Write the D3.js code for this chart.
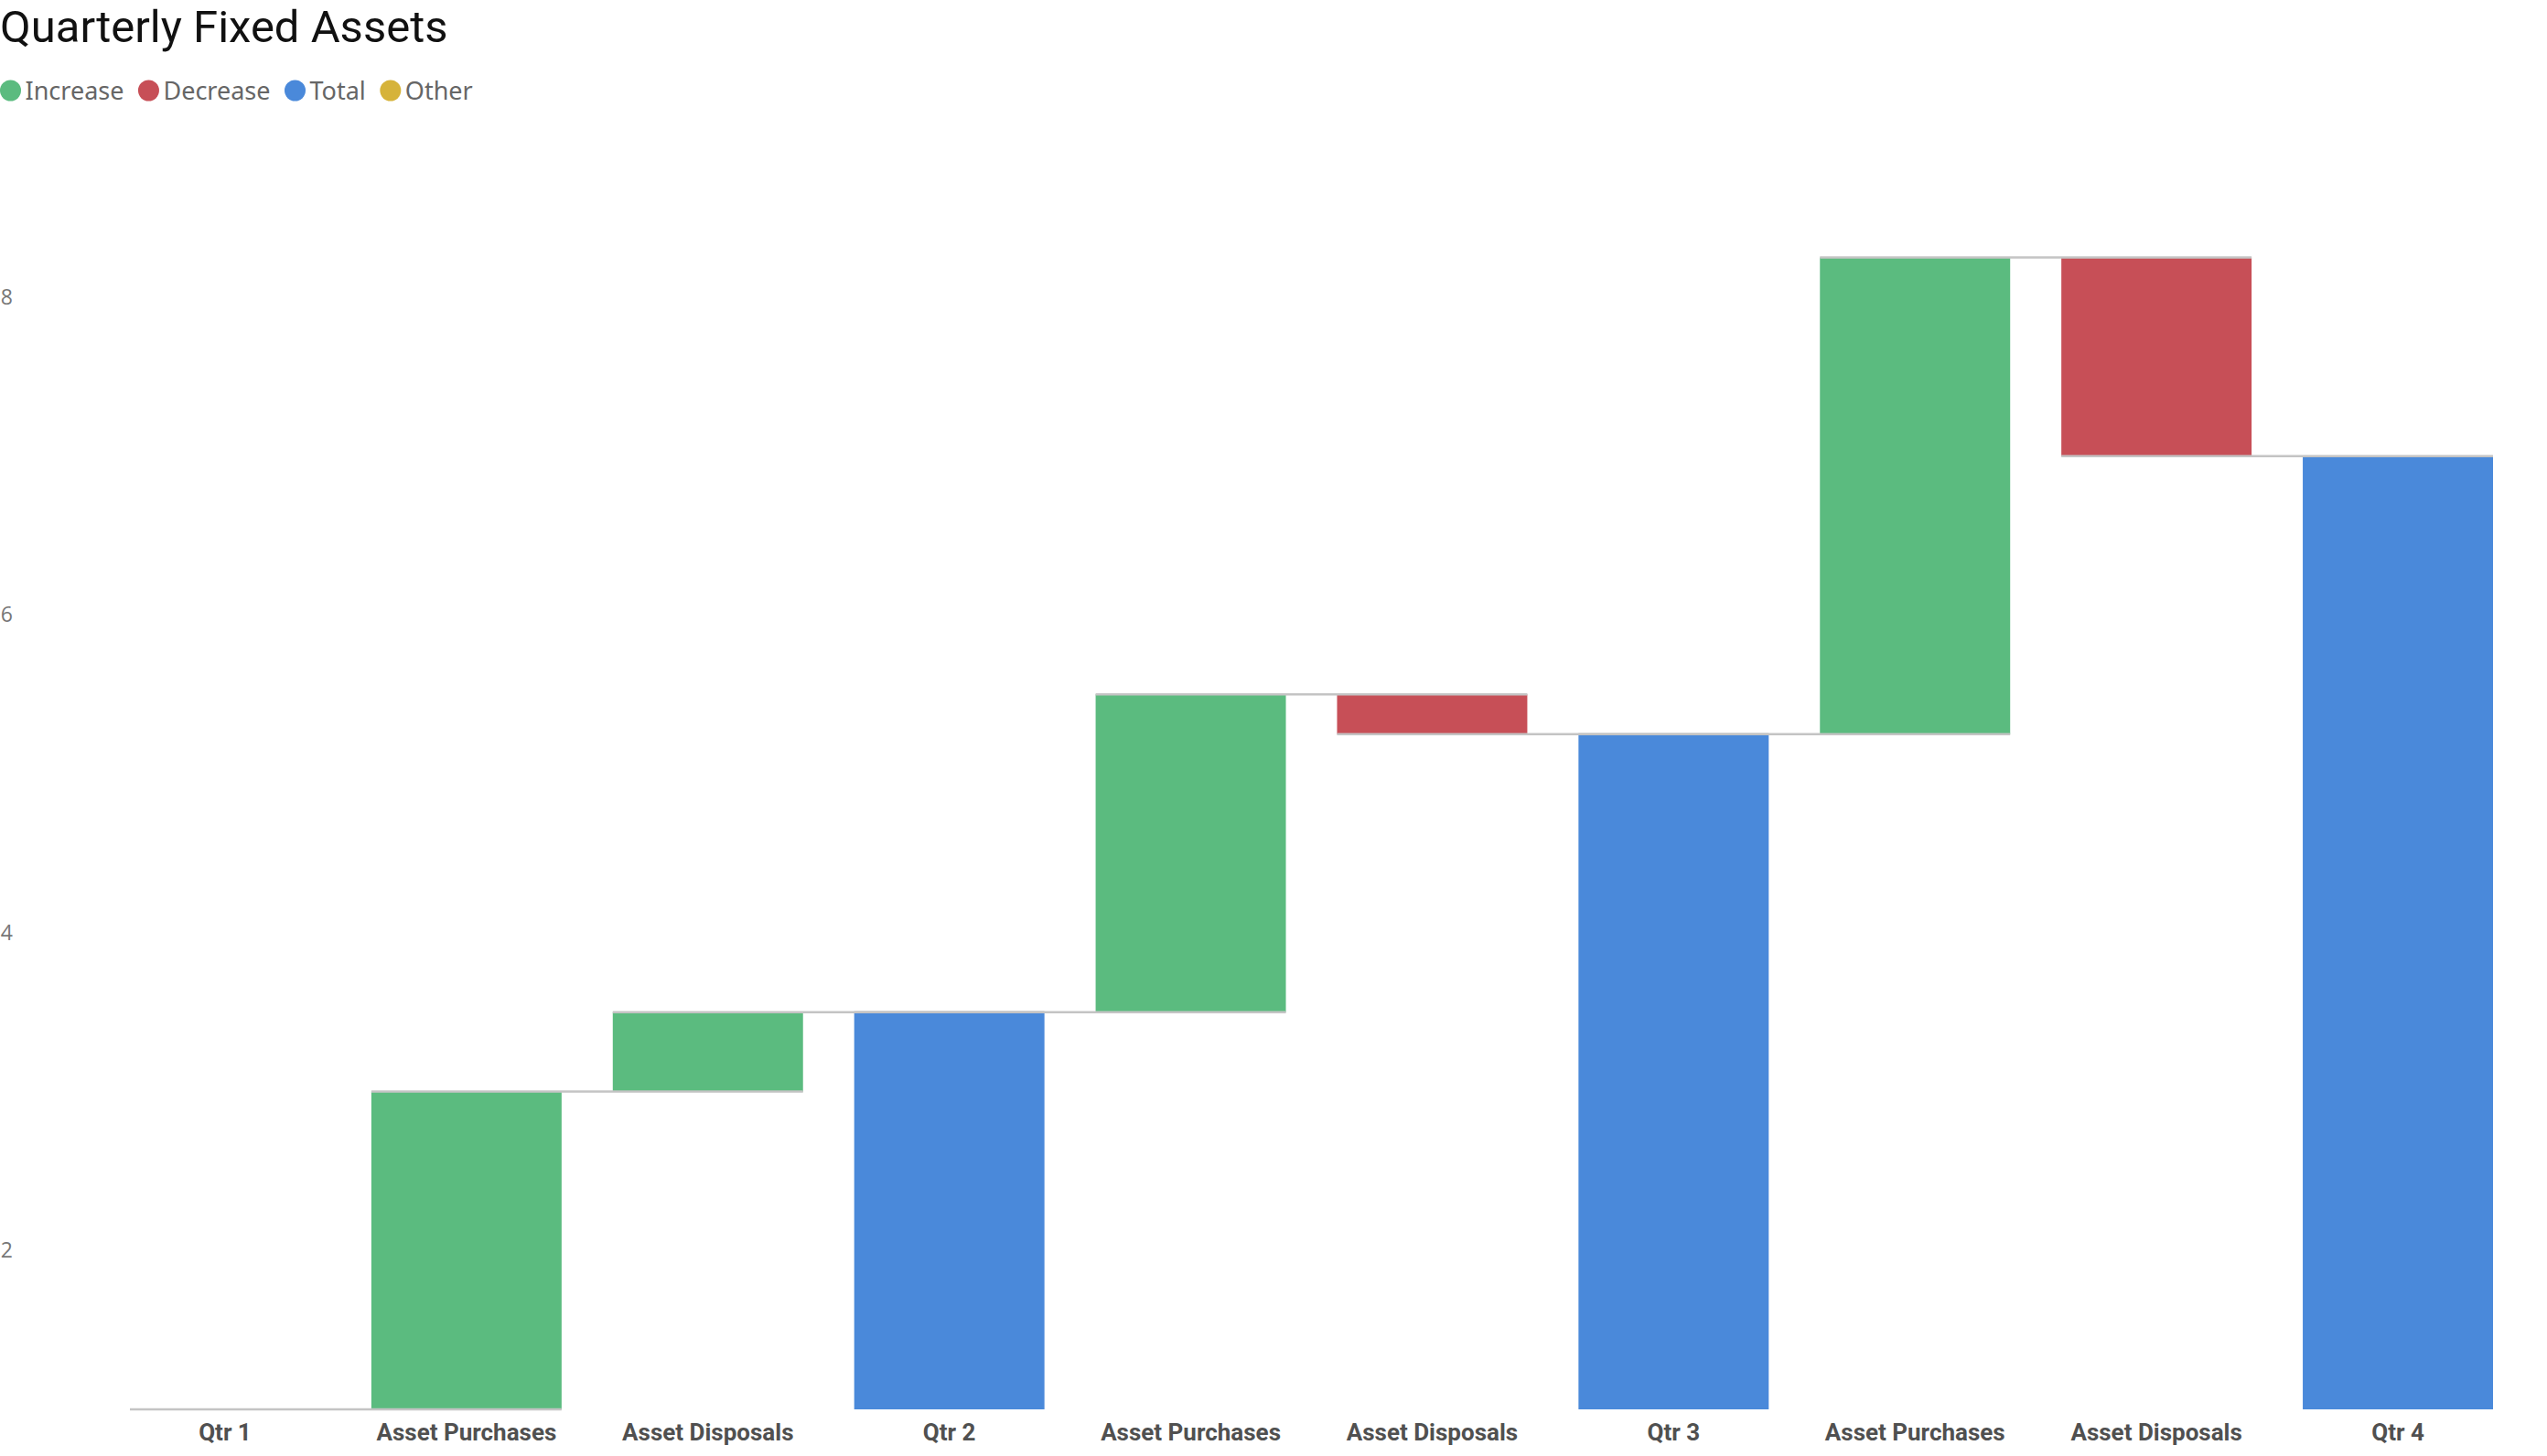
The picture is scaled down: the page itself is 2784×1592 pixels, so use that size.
<!DOCTYPE html>
<html>
<head>
<meta charset="utf-8">
<script src="https://cdn.jsdelivr.net/npm/d3@7"></script>
<style>
  body { margin: 0; background: #fff; }
  svg { display: block; }
</style>
</head>
<body>
<div id="chart"></div>
<script>
// chart data
const categories = ['Qtr 1', 'Asset Purchases', 'Asset Disposals', 'Qtr 2', 'Asset Purchases',
  'Asset Disposals', 'Qtr 3', 'Asset Purchases', 'Asset Disposals', 'Qtr 4'];
const kinds = ['total', 'increase', 'increase', 'total', 'increase',
  'decrease', 'total', 'increase', 'decrease', 'total'];
const values = [1, 2, 0.5, 3.5, 2, -0.25, 5.25, 3, -1.25, 7];
const yTicks = [2, 4, 6, 8];
const legendNames = ['Increase', 'Decrease', 'Total', 'Other'];
const legendColors = ['#5bbb7f', '#c74f57', '#4a89da', '#d6b33a'];

const width = 2784;
const height = 1592;

const colorOf = { increase: '#5bbb7f', decrease: '#c74f57', total: '#4a89da' };

// running totals -> start / end of each bar
let running = 0;
const bars = values.map((v, i) => {
  let start, end;
  if (kinds[i] === 'total') {
    start = 1; // axis floor
    end = v;
    running = v;
  } else {
    start = running;
    end = running + v;
    running = end;
  }
  return { i, label: categories[i], kind: kinds[i], start, end };
});

const svg = d3.select('#chart')
  .append('svg')
  .attr('width', width)
  .attr('height', height);

svg.append('rect').attr('width', width).attr('height', height).attr('fill', '#fff');

const xScale = d3.scaleBand()
  .domain(d3.range(categories.length))
  .range([142, 2725])
  .paddingInner(0.212)
  .paddingOuter(0);

const yScale = d3.scaleLinear().domain([1, 8]).range([1541, 325]);

// title
svg.append('text')
  .attr('x', 0)
  .attr('y', 46)
  .attr('font-family', 'Roboto, sans-serif')
  .attr('font-size', 49)
  .attr('font-weight', 400)
  .attr('fill', '#111')
  .text('Quarterly Fixed Assets');

// legend
const legend = svg.append('g').attr('transform', 'translate(0, 99)');
let lx = 11.5;
legendNames.forEach((name, k) => {
  legend.append('circle')
    .attr('cx', lx)
    .attr('cy', 0)
    .attr('r', 11.5)
    .attr('fill', legendColors[k]);
  const t = legend.append('text')
    .attr('x', lx + 16)
    .attr('y', 10)
    .attr('font-family', '"Noto Sans", sans-serif')
    .attr('font-size', 27)
    .attr('fill', '#666')
    .text(name);
  lx += 16 + t.node().getComputedTextLength() + 27;
});

// y axis
const yAxis = d3.axisLeft(yScale)
  .tickValues(yTicks)
  .tickSize(0)
  .tickPadding(0)
  .tickFormat(d3.format('d'));
const yg = svg.append('g')
  .attr('transform', 'translate(14, 0)')
  .call(yAxis);
yg.select('.domain').remove();
yg.selectAll('text')
  .attr('font-family', '"Open Sans", sans-serif')
  .attr('font-size', 23)
  .attr('fill', '#777');

// x axis
const xAxis = d3.axisBottom(xScale).tickSize(0).tickPadding(16).tickFormat((i) => categories[i]);
const xg = svg.append('g')
  .attr('transform', `translate(0, ${yScale(1)})`)
  .call(xAxis);
xg.select('.domain').remove();
xg.selectAll('text')
  .attr('font-family', 'Roboto, sans-serif')
  .attr('font-weight', 700)
  .attr('font-size', 26)
  .attr('fill', '#505050');

// bars
svg.append('g')
  .selectAll('rect')
  .data(bars)
  .join('rect')
  .attr('x', (d) => xScale(d.i))
  .attr('width', xScale.bandwidth())
  .attr('y', (d) => yScale(Math.max(d.start, d.end)))
  .attr('height', (d) => Math.abs(yScale(d.start) - yScale(d.end)))
  .attr('fill', (d) => colorOf[d.kind]);

// connectors between bars
svg.append('g')
  .selectAll('line')
  .data(bars.slice(0, -1))
  .join('line')
  .attr('x1', (d) => xScale(d.i))
  .attr('x2', (d) => xScale(d.i + 1) + xScale.bandwidth())
  .attr('y1', (d) => yScale(d.end))
  .attr('y2', (d) => yScale(d.end))
  .attr('stroke', '#c4c4c4')
  .attr('stroke-width', 2.5);
</script>
</body>
</html>
